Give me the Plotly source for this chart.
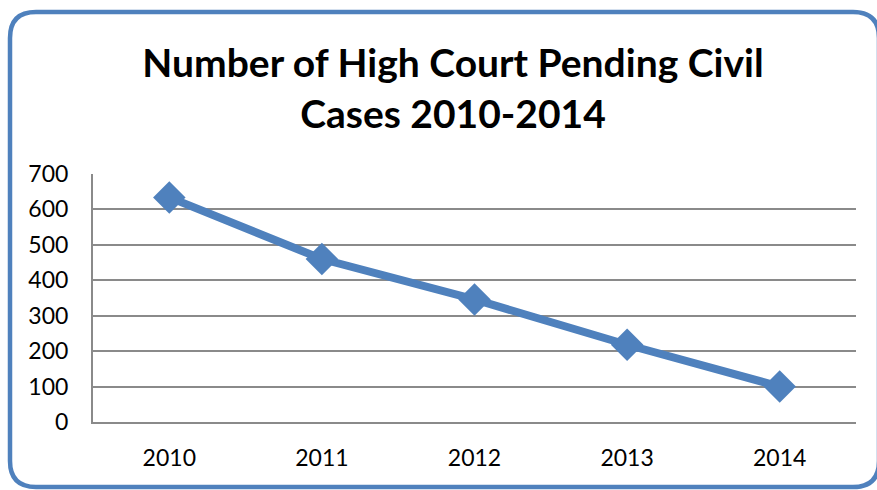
import plotly.graph_objects as go

years = ["2010", "2011", "2012", "2013", "2014"]
pending_cases = [634, 460, 346, 218, 100]
y_ticks = [0, 100, 200, 300, 400, 500, 600, 700]

W, H = 877, 490
ML, MR, MT, MB = 93, 21, 174, 68
PW, PH = W - ML - MR, H - MT - MB

def px(x):
    return (x - ML) / PW

def py(y):
    return (H - MB - y) / PH

blue = "#4F81BD"
grid = "#8A8A8A"

fig = go.Figure()
fig.add_trace(go.Scatter(
    x=years, y=pending_cases, mode="lines+markers",
    line=dict(color=blue, width=8),
    marker=dict(symbol="diamond", size=25, color=blue),
    showlegend=False,
))

# rounded border
x0, y0, x1, y1, r = 10, 12, 879, 487, 26
path = (f"M {px(x0+r)},{py(y0)} L {px(x1-r)},{py(y0)} Q {px(x1)},{py(y0)} {px(x1)},{py(y0+r)} "
        f"L {px(x1)},{py(y1-r)} Q {px(x1)},{py(y1)} {px(x1-r)},{py(y1)} "
        f"L {px(x0+r)},{py(y1)} Q {px(x0)},{py(y1)} {px(x0)},{py(y1-r)} "
        f"L {px(x0)},{py(y0+r)} Q {px(x0)},{py(y0)} {px(x0+r)},{py(y0)} Z")
fig.add_shape(type="path", path=path, xref="paper", yref="paper",
              line=dict(color=blue, width=4.5), layer="below")

font = "Lato, 'Open Sans', sans-serif"
fig.update_layout(
    width=W, height=H,
    margin=dict(l=ML, r=MR, t=MT, b=MB),
    paper_bgcolor="white", plot_bgcolor="white",
    title=dict(text="<b>Number of High Court Pending Civil<br>Cases 2010-2014</b>",
               xref="container", x=453 / W, xanchor="center",
               yref="container", y=1 - 77 / H, yanchor="middle",
               font=dict(family=font, size=39, color="black")),
    font=dict(family=font, size=23, color="black"),
)
fig.update_xaxes(
    type="category", range=[-0.5, 4.5], showgrid=False,
    showline=True, linecolor=grid, linewidth=2,
    ticks="outside", ticklen=14, tickcolor="rgba(0,0,0,0)",
    tickfont=dict(size=23), zeroline=False, fixedrange=True,
)
fig.update_yaxes(
    range=[0, 700], tickvals=y_ticks, showgrid=True, gridcolor=grid, gridwidth=1.5,
    showline=True, linecolor=grid, linewidth=2, zeroline=False,
    ticks="outside", ticklen=18, tickcolor="rgba(0,0,0,0)",
    tickfont=dict(size=23), fixedrange=True,
)

fig.write_html("out.html", config={"displayModeBar": False},
               post_script="document.body.style.margin='0';document.body.style.overflow='hidden';")
